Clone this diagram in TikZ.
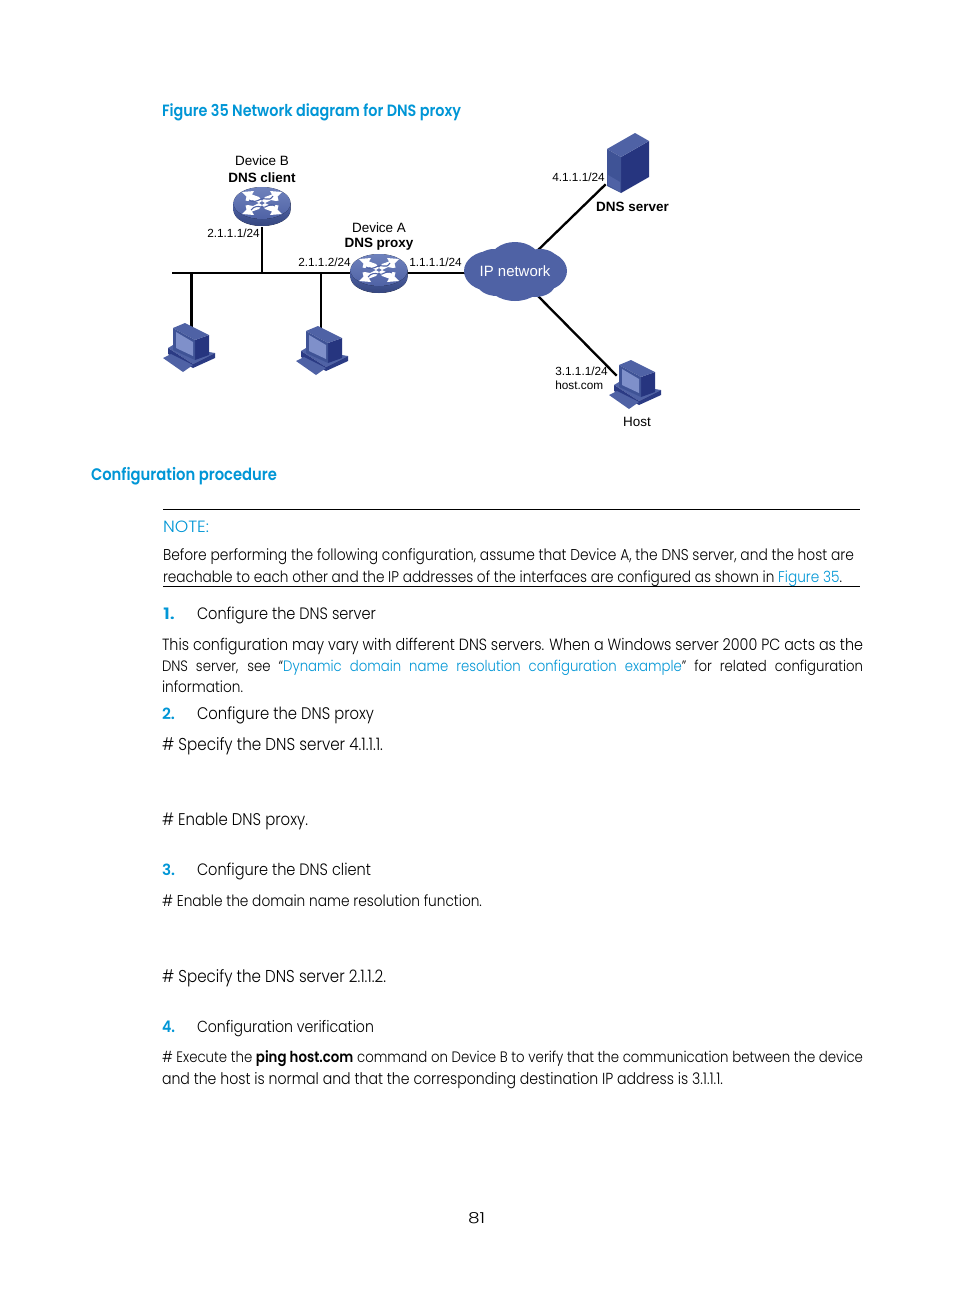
\documentclass[tikz,border=0pt]{standalone}
\usepackage{fontspec}
\setmainfont{Poppins}[UprightFont={* Light},BoldFont={* SemiBold},FakeStretch=0.88]
\newfontfamily\arial{Liberation Sans}
\definecolor{hpblue}{HTML}{0096D6}
\definecolor{devmain}{HTML}{4F62A5}
\definecolor{devlight}{HTML}{6F82BC}
\definecolor{devmid}{HTML}{3F5396}
\definecolor{devdark}{HTML}{26357F}
\definecolor{devscreen}{HTML}{7F90CA}
\newlength\pxu \setlength\pxu{0.75pt}
\newcommand{\bodyfont}{\fontsize{10.8pt}{13pt}\selectfont}
\newcommand{\fitline}[5]{\node[txt] (#1) at (#2,#3) {\resizebox{#4\pxu}{!}{\bodyfont #5}};}
\newcommand{\fixline}[6]{\node[txt] (#1) at (#2,#3) {\resizebox{#4\pxu}{#5\pxu}{\bodyfont #6}};}
\newcommand{\justline}[5]{\node[txt] (#1) at (#2,#3) {\makebox[#4\pxu][s]{\fontsize{11.3pt}{13pt}\selectfont #5}};}
\newcommand{\lnk}[1]{\textcolor{hpblue}{#1}}
\newcommand{\routerpic}[2]{%
\begin{scope}[shift={(#1,#2)}]
\fill[top color=devmain,bottom color=devmid!85!black] (-28.5,0) -- (-28.5,7) arc[x radius=28.5,y radius=16,start angle=180,end angle=0] -- (28.5,0) -- cycle;
\fill[top color=devlight,bottom color=devmain] (0,0) ellipse[x radius=28.5,y radius=16];
\foreach \sx/\sy in {1/1,-1/1,1/-1,-1/-1}{
\begin{scope}[xscale=\sx,yscale=\sy]
\fill[white] (-20,-11) -- (-8,-12) -- (-10,-8.5) -- (-3,-6) -- (0,-2) -- (-3,0) -- (-9,-3) -- (-14,-2) -- (-16.5,-2.5) -- (-15.5,-6.5) -- cycle;
\end{scope}}
\draw[devmain,line width=0.8pt] (-13,-3) .. controls (-6,2) and (-3,-6) .. (4,-4) .. controls (7,-3) and (9,-4) .. (11,-7);
\draw[devmain,line width=0.8pt] (-11,7) .. controls (-8,3) and (-4,3) .. (-1,4) .. controls (5,6) and (7,-1) .. (13,3);
\end{scope}}
\newcommand{\pcpic}[2]{%
\begin{scope}[shift={(#1,#2)}]
\fill[devmain] (-15,24) -- (-10,21) -- (26,28) -- (32,29) -- (10,40) -- cycle;
\fill[devdark!80!devmid] (-15,24) -- (10,40) -- (32,29) -- (32,34) -- (10,44) -- (-15,30) -- cycle;
\fill[devmain] (-20,34) -- (-12,30) -- (10,41) -- (0,48) -- cycle;
\fill[devdark] (12,16) -- (26,11) -- (26,31) -- (12,36) -- cycle;
\fill[devmain] (-10,4) -- (2,-1) -- (26,11) -- (12,16) -- cycle;
\fill[devmid] (-10,4) -- (12,16) -- (12,36) -- (-10,26) -- cycle;
\fill[devscreen] (-7,8) -- (10,18) -- (10,32) -- (-7,24) -- cycle;
\end{scope}}
\tikzset{
 txt/.style={anchor=base west,inner sep=0pt,outer sep=0pt},
 lbl/.style={anchor=base west,inner sep=0pt,font=\arial\fontsize{8.85pt}{10pt}\selectfont},
 lblb/.style={anchor=base,inner sep=0pt,font=\arial\fontsize{10.1pt}{11pt}\selectfont},
 link/.style={black,line width=1.5pt},
 diag link/.style={black,line width=1.75pt},
 thick link/.style={black,line width=2.25pt},
 dev/.style={inner sep=0pt,outer sep=0pt,minimum size=2pt},
 rule/.style={black,line width=0.75pt}
}
\begin{document}
\begin{tikzpicture}[x=0.75pt,y=-0.75pt]
\useasboundingbox (0,0) rectangle (954,1296);
\fill[white] (0,0) rectangle (954,1296);
% anchors
\node[dev] (routerB) at (262,226) {};
\node[dev] (routerA) at (379,273) {};
\node[dev] (cloud) at (515,273) {};
\coordinate (busL) at (172,273);
\coordinate (busB) at (262,273);
\coordinate (pc1top) at (191.5,273);
\coordinate (pc2top) at (321,273);
\node[dev] (pc1) at (191.5,328) {};
\node[dev] (pc2) at (321,331) {};
\node[dev] (server) at (607,183) {};
\node[dev] (host) at (618,377) {};
\node[dev] (cloudNE) at (535,253) {};
\node[dev] (cloudSE) at (535,293) {};
% connectors
\draw[link] (busL) -- (routerA);
\draw[link] (routerB) -- (busB);
\draw[thick link] (pc1top) -- (pc1);
\draw[link] (pc2top) -- (pc2);
\draw[link] (routerA) -- (cloud);
\draw[diag link] (cloudNE) -- (server);
\draw[diag link] (cloudSE) -- (host);
% devices
\routerpic{262}{203}
\routerpic{379}{270}
\pcpic{183}{324}
\pcpic{316}{327}
\pcpic{629}{361}
\fill[devdark] (621,157) -- (649,141) -- (649,177) -- (621,193) -- cycle;
\fill[devmain] (607,149) -- (635,133) -- (649,141) -- (621,157) -- cycle;
\fill[devmid] (607,149) -- (621,157) -- (621,193) -- (607,186) -- cycle;
\fill[devmain] (608,175) -- (620,182) -- (620,192) -- (608,185) -- cycle;
\foreach \cx/\cy/\rx/\ry in {490/271/26/20,541/271/26/20,515/262/26/20,515/280/29/21,494/261/17/12,540/261/18/12,497/283/20/13,535/284/20/13}
  \fill[devmain] (\cx,\cy) ellipse[x radius=\rx,y radius=\ry];
% diagram labels
\node[lblb] (tB) at (262,165) {Device B};
\node[lblb] (tBb) at (262,182) {\bfseries DNS client};
\node[lbl] (ipB) at (207,237) {2.1.1.1/24};
\node[lblb] (tA) at (379,232) {Device A};
\node[lblb] (tAb) at (379,247) {\bfseries DNS proxy};
\node[lbl] (ipA1) at (298,266) {2.1.1.2/24};
\node[lbl] (ipA2) at (409,266) {1.1.1.1/24};
\node[anchor=base,inner sep=0pt,white,font=\arial\fontsize{11.2pt}{12pt}\selectfont] (ipnet) at (515,276) {IP network};
\node[lbl] (ipS) at (552,181) {4.1.1.1/24};
\node[lblb] (tS) at (632.5,211) {\bfseries DNS server};
\node[lbl] (ipH) at (555,375) {3.1.1.1/24};
\node[lbl] (hc) at (555,389) {host.com};
\node[lblb] (tH) at (637,426) {Host};
% page text
\fitline{fig}{162}{116}{299}{\bfseries\color{hpblue}Figure 35 Network diagram for DNS proxy}
\fitline{conf}{91}{480}{186}{\bfseries\color{hpblue}Configuration procedure}
\draw[rule] (163,509.5) -- (860,509.5);
\draw[rule] (163,586.5) -- (860,586.5);
\fixline{note}{163}{532}{46}{11.5}{\color{hpblue}NOTE:}
\fitline{l1}{163}{560}{691}{Before performing the following configuration, assume that Device A, the DNS server, and the host are}
\fitline{l2}{163}{582}{679}{reachable to each other and the IP addresses of the interfaces are configured as shown in \lnk{Figure 35}.}
\fixline{n1}{163}{619}{12}{11.5}{\bfseries\color{hpblue}1.}
\fitline{s1}{197}{619}{179}{Configure the DNS server}
\fitline{p1}{162}{650}{701}{This configuration may vary with different DNS servers. When a Windows server 2000 PC acts as the}
\justline{p2}{162}{671}{701}{DNS server, see “\lnk{Dynamic domain name resolution configuration example}” for related configuration}
\fitline{p3}{162}{692}{81}{information.}
\fixline{n2}{162}{719}{13}{11.5}{\bfseries\color{hpblue}2.}
\fitline{s2}{197}{719}{177}{Configure the DNS proxy}
\fitline{c1}{162}{750}{221}{\# Specify the DNS server 4.1.1.1.}
\fitline{c2}{162}{825}{146}{\# Enable DNS proxy.}
\fixline{n3}{162}{875}{13}{11.5}{\bfseries\color{hpblue}3.}
\fitline{s3}{197}{875}{174}{Configure the DNS client}
\fitline{c3}{162}{906}{320}{\# Enable the domain name resolution function.}
\fitline{c4}{162}{982}{224}{\# Specify the DNS server 2.1.1.2.}
\fixline{n4}{162}{1032}{13}{11.5}{\bfseries\color{hpblue}4.}
\fitline{s4}{197}{1032}{177}{Configuration verification}
\fitline{e1}{162}{1062}{701}{\# Execute the \textbf{ping host.com} command on Device B to verify that the communication between the device}
\fitline{e2}{162}{1084}{561}{and the host is normal and that the corresponding destination IP address is 3.1.1.1.}
\fixline{pg}{468}{1223}{17}{11}{81}
\end{tikzpicture}
\end{document}
